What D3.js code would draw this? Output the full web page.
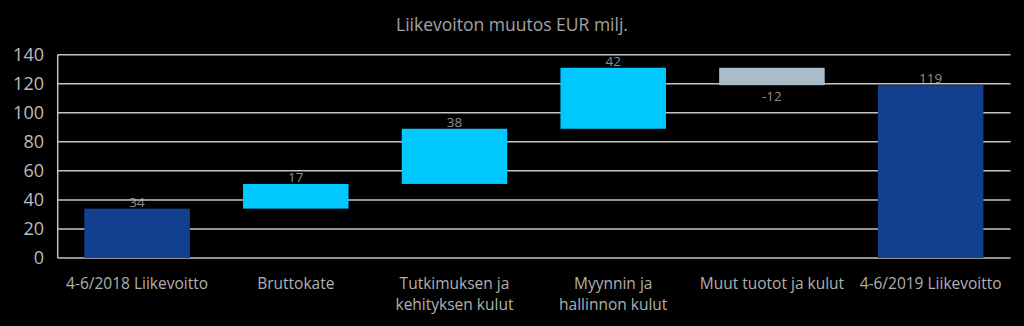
<!DOCTYPE html>
<html>
<head>
<meta charset="utf-8">
<script src="https://d3js.org/d3.v7.min.js"></script>
<style>
  html, body { margin: 0; padding: 0; background: #000; }
  svg { display: block; font-family: "Open Sans", sans-serif; }
</style>
</head>
<body>
<div id="chart"></div>
<script>
var width = 1024, height = 326;

// data
var categories = ["4-6/2018 Liikevoitto", "Bruttokate", "Tutkimuksen ja\nkehityksen kulut", "Myynnin ja\nhallinnon kulut", "Muut tuotot ja kulut", "4-6/2019 Liikevoitto"];
var values = [34, 17, 38, 42, -12, 119];
var kinds = ["total", "change", "change", "change", "change", "total"];
var yTicks = [0, 20, 40, 60, 80, 100, 120, 140];

var colors = {total: "#12408f", up: "#00c8ff", down: "#a9bcc7"};

// build the waterfall steps
var running = 0;
var steps = values.map(function(v, i) {
    var s;
    if (kinds[i] == "total") {
        s = {cat: categories[i], v: v, y0: 0, y1: v, color: colors.total};
        running = v;
    } else {
        s = {cat: categories[i], v: v, y0: running, y1: running + v, color: v >= 0 ? colors.up : colors.down};
        running += v;
    }
    return s;
});

var svg = d3.select("#chart")
    .append("svg")
    .attr("width", width)
    .attr("height", height);

var x = d3.scaleBand()
    .domain(categories)
    .range([57.7, 1010])
    .paddingInner(0.335)
    .paddingOuter(0.1675);

var y = d3.scaleLinear()
    .domain([0, 140])
    .range([258, 54.7]);

// title
svg.append("text")
    .attr("x", 512)
    .attr("y", 31)
    .attr("text-anchor", "middle")
    .attr("fill", "#a3a3a3")
    .style("font-size", "17.5px")
    .text("Liikevoiton muutos EUR milj.");

// data labels (drawn under the grid, as in the original)
svg.append("g")
    .selectAll("text")
    .data(steps)
    .enter().append("text")
    .attr("x", function(d) { return x(d.cat) + x.bandwidth() / 2; })
    .attr("y", function(d) {
        if (d.v >= 0) return y(Math.max(d.y0, d.y1)) - 2;
        return y(Math.min(d.y0, d.y1)) + 16;
    })
    .attr("text-anchor", "middle")
    .attr("fill", "#8f8f8f")
    .style("font-size", "13.5px")
    .text(function(d) { return d.v; });

// grid lines
svg.append("g")
    .selectAll("line")
    .data(yTicks)
    .enter().append("line")
    .attr("x1", 57.7)
    .attr("x2", 1010.5)
    .attr("y1", function(d) { return y(d); })
    .attr("y2", function(d) { return y(d); })
    .attr("stroke", "#c4c4c4")
    .attr("stroke-width", 1.5);

// y axis line
svg.append("line")
    .attr("x1", 57.7)
    .attr("x2", 57.7)
    .attr("y1", y(140))
    .attr("y2", y(0))
    .attr("stroke", "#c4c4c4")
    .attr("stroke-width", 1.5);

// tick labels
svg.append("g")
    .selectAll("text")
    .data(yTicks)
    .enter().append("text")
    .attr("x", 44)
    .attr("y", function(d) { return y(d); })
    .attr("dy", "0.36em")
    .attr("text-anchor", "end")
    .attr("fill", "#bcbcbc")
    .style("font-size", "18px")
    .text(function(d) { return d; });

// bars
svg.append("g")
    .selectAll("rect")
    .data(steps)
    .enter().append("rect")
    .attr("x", function(d) { return x(d.cat); })
    .attr("width", x.bandwidth())
    .attr("y", function(d) { return y(Math.max(d.y0, d.y1)); })
    .attr("height", function(d) { return Math.abs(y(d.y0) - y(d.y1)); })
    .attr("fill", function(d) { return d.color; });

// category labels
var cats = svg.append("g")
    .selectAll("text")
    .data(categories)
    .enter().append("text")
    .attr("x", function(d) { return x(d) + x.bandwidth() / 2; })
    .attr("y", 289.3)
    .attr("text-anchor", "middle")
    .attr("fill", "#b0b0b0")
    .style("font-size", "15.5px");

cats.selectAll("tspan")
    .data(function(d) { return d.split("\n"); })
    .enter().append("tspan")
    .attr("x", function() { var p = this.parentNode.__data__; return x(p) + x.bandwidth() / 2; })
    .attr("dy", function(d, i) { return i == 0 ? 0 : 21; })
    .text(function(d) { return d; });
</script>
</body>
</html>
